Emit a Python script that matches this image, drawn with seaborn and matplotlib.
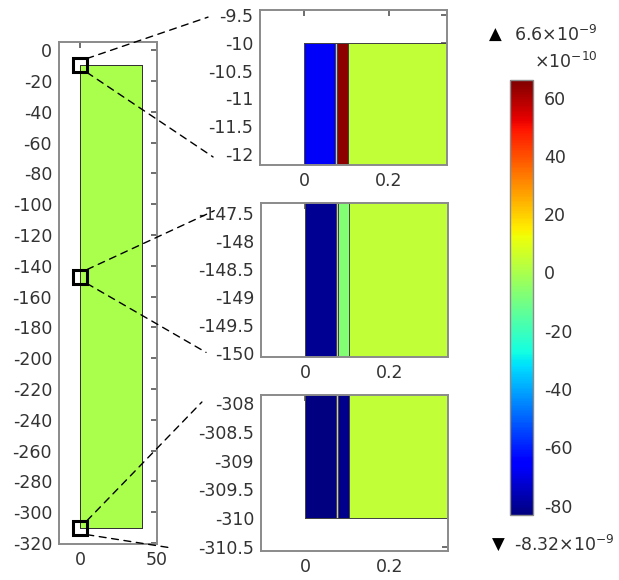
import numpy as np
import matplotlib
matplotlib.use("Agg")
import matplotlib.pyplot as plt
import seaborn as sns
from matplotlib.patches import ConnectionPatch
from matplotlib.colors import Normalize
from matplotlib.cm import ScalarMappable
from matplotlib.ticker import FuncFormatter

# geometria (um) y valores del campo (x1e-10)
main_x = [0, 40]
main_y = [-310, -10]
main_val = [0.0]

layer_x = [0, 0.072, 0.077, 0.103, 0.4]
top_val = [-67, np.nan, 64, 4]
mid_val = [-80.5, np.nan, -7, 4]
bot_val = [-83, np.nan, -81, 4]
zoom_vals = [top_val, mid_val, bot_val]

zoom_y = [-10, -147, -310]
zoom_ylim = [(-12.2, -9.41), (-150.07, -147.32), (-310.57, -307.86)]
zoom_yticks = [[-12, -11.5, -11, -10.5, -10, -9.5],
               [-150, -149.5, -149, -148.5, -148, -147.5],
               [-310.5, -310, -309.5, -309, -308.5, -308]]
zoom_xticks = [0, 0.2]
main_yticks = list(range(-320, 1, 20))
main_xticks = [0, 50]

vmin, vmax = -83.2, 66.0
cbar_ticks = [-80, -60, -40, -20, 0, 20, 40, 60]
max_txt = r"6.6$\times$10$^{-9}$"
min_txt = r"-8.32$\times$10$^{-9}$"
unit_txt = r"$\times$10$^{-10}$"

sns.set_theme(style="white")
plt.rcParams["font.family"] = ["DejaVu Sans"]
plt.rcParams["axes.unicode_minus"] = False

frame_c = "#8a8a8a"
text_c = "#333333"
fs = 12.5
cmap = matplotlib.colormaps["jet"].copy()
cmap.set_bad("#c8c8c8")
norm = Normalize(vmin, vmax)

fig = plt.figure(figsize=(6.19, 5.80), dpi=100)


def style_ax(ax):
    for s in ax.spines.values():
        s.set_color(frame_c)
        s.set_linewidth(1.4)
    ax.tick_params(direction="in", length=4, width=1.2, color="#555555",
                   top=True, right=True, labelsize=fs, labelcolor=text_c, pad=5)
    ax.yaxis.set_major_formatter(FuncFormatter(lambda v, p: "%g" % v))
    ax.xaxis.set_major_formatter(FuncFormatter(lambda v, p: "%g" % v))


# panel principal
ax = fig.add_axes([0.0953, 0.062, 0.1583, 0.8655])
ax.pcolormesh(main_x, main_y, np.array([main_val]), cmap=cmap, norm=norm,
              edgecolors="#333333", linewidth=0.7)
ax.plot([0] * len(zoom_y), zoom_y, "s", ms=10, mfc="none", mec="black", mew=2.2, zorder=5)
ax.set_xlim(-13.6, 50)
ax.set_ylim(-320.6, 5.2)
ax.set_yticks(main_yticks)
ax.set_xticks(main_xticks)
style_ax(ax)

# ventanas de zoom
pos = [[0.42, 0.7155, 0.302, 0.267],
       [0.4216, 0.3845, 0.302, 0.2655],
       [0.4216, 0.05, 0.302, 0.269]]
ends = [[(-0.278, 0.955), (-0.251, 0.052)],
        [(-0.25, 0.95), (-0.294, 0.03)],
        [(-0.316, 0.955), (-0.476, 0.019)]]
hs = 4.5
for i in range(3):
    axi = fig.add_axes(pos[i])
    vals = np.ma.masked_invalid(np.array([zoom_vals[i]]))
    axi.pcolormesh(layer_x, main_y, vals, cmap=cmap, norm=norm,
                   edgecolors="#444444", linewidth=0.6)
    axi.set_xlim(-0.105, 0.338)
    axi.set_ylim(*zoom_ylim[i])
    axi.set_yticks(zoom_yticks[i])
    axi.set_xticks(zoom_xticks)
    style_ax(axi)
    for (dy, end) in zip([hs, -hs], ends[i]):
        con = ConnectionPatch(xyA=(hs, zoom_y[i] + dy), coordsA="data", axesA=ax,
                              xyB=end, coordsB="axes fraction", axesB=axi,
                              color="black", lw=1.0, linestyle=(0, (5, 4)))
        fig.add_artist(con)

# barra de color
cax = fig.add_axes([0.824, 0.112, 0.037, 0.75])
cb = fig.colorbar(ScalarMappable(norm=norm, cmap=cmap), cax=cax, ticks=cbar_ticks)
cb.outline.set_edgecolor(frame_c)
cb.outline.set_linewidth(1.0)
cax.tick_params(direction="in", length=3, width=1, color="#333333", left=True,
                labelsize=fs, labelcolor=text_c, pad=8)
cax.yaxis.set_major_formatter(FuncFormatter(lambda v, p: "%g" % v))

fig.text(0.800, 0.940, "\u25b2", fontsize=12, color="black", va="center", ha="center")
fig.text(0.830, 0.940, max_txt, fontsize=fs, color=text_c, va="center")
fig.text(0.862, 0.893, unit_txt, fontsize=fs, color=text_c, va="center")
fig.text(0.805, 0.060, "\u25bc", fontsize=12, color="black", va="center", ha="center")
fig.text(0.830, 0.060, min_txt, fontsize=fs, color=text_c, va="center")

fig.savefig("out.png", dpi=100)
